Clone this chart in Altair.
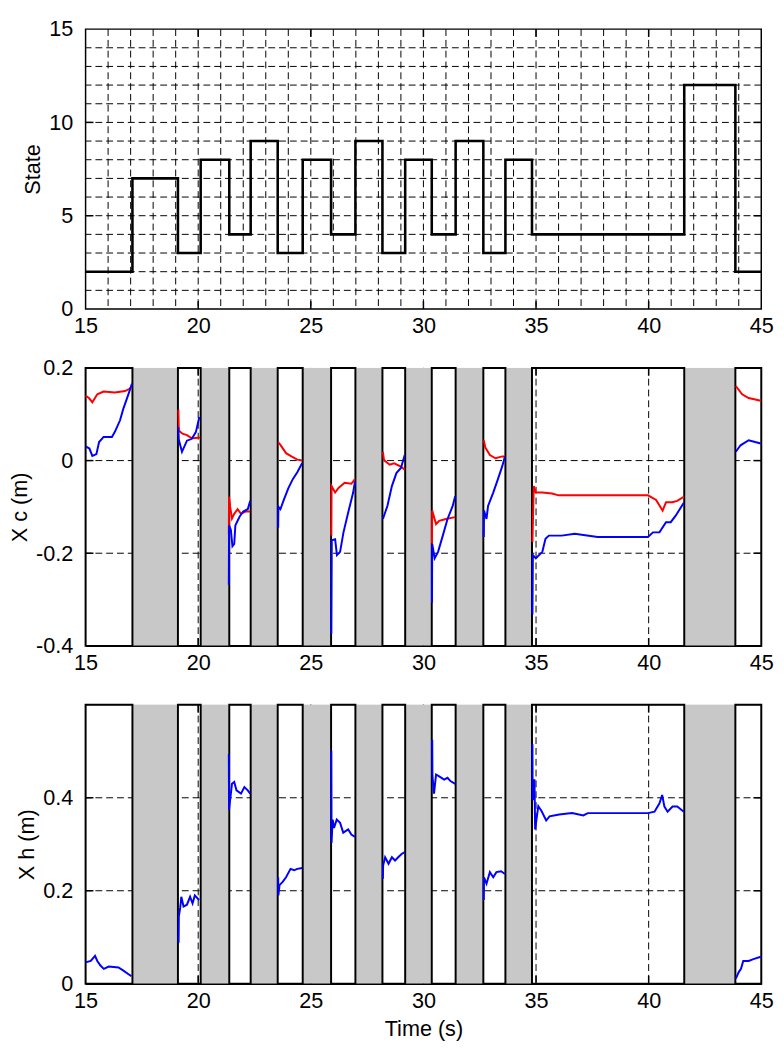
import altair as alt
import pandas as pd

# ---------------- data ----------------
SWITCH_TIMES = [15.0, 17.08, 19.1, 20.11, 21.38, 22.33, 23.53, 24.64, 25.9, 26.98,
                28.18, 29.19, 30.37, 31.43, 32.66, 33.64, 34.82, 41.58, 43.85]
STATES = [2, 7, 3, 8, 4, 9, 3, 8, 4, 9, 3, 8, 4, 9, 3, 8, 4, 12, 2]
T_END = 45.0
WHITE_STATES = [2, 3, 4]          # intervals drawn as framed white boxes; others shaded

# X_c (m): red trace, one list of (time, value) per white interval
XC_RED = [
    [(15.0, 0.140), (15.15, 0.135), (15.3, 0.126), (15.52, 0.143), (15.8, 0.149), (16.3, 0.147),
     (16.75, 0.150), (16.95, 0.155), (17.06, 0.160)],
    [(19.12, 0.110), (19.14, 0.065), (19.3, 0.058), (19.5, 0.055), (19.65, 0.050), (19.8, 0.048), (20.08, 0.050)],
    [(21.36, -0.160), (21.37, -0.078), (21.42, -0.100), (21.5, -0.125), (21.6, -0.115), (21.75, -0.105),
     (21.9, -0.115), (22.1, -0.110), (22.31, -0.110)],
    [(23.55, 0.040), (23.65, 0.034), (23.9, 0.016), (24.1, 0.010), (24.4, 0.002), (24.62, 0.0)],
    [(25.91, -0.162), (25.92, -0.055), (26.08, -0.069), (26.23, -0.059), (26.5, -0.048), (26.8, -0.050), (26.96, -0.040)],
    [(28.2, 0.019), (28.25, 0.001), (28.5, -0.009), (28.7, -0.006), (29.0, -0.013), (29.17, -0.020)],
    [(30.38, -0.179), (30.39, -0.108), (30.56, -0.137), (30.7, -0.130), (31.0, -0.126), (31.41, -0.122)],
    [(32.68, 0.044), (32.75, 0.028), (32.95, 0.012), (33.2, 0.005), (33.5, 0.009), (33.62, 0.009)],
    [(34.84, -0.176), (34.9, -0.055), (34.99, -0.069), (35.28, -0.069), (35.71, -0.071), (36.0, -0.075),
     (39.97, -0.075), (40.33, -0.085), (40.62, -0.108), (40.77, -0.090), (41.05, -0.090), (41.27, -0.087),
     (41.56, -0.078)],
    [(43.87, 0.161), (44.15, 0.143), (44.44, 0.135), (44.98, 0.129)],
]

# X_c (m): blue trace
XC_BLUE = [
    [(15.0, 0.031), (15.17, 0.026), (15.3, 0.010), (15.48, 0.014), (15.6, 0.040), (15.8, 0.051), (16.17, 0.051),
     (16.3, 0.062), (16.53, 0.087), (16.67, 0.111), (16.9, 0.143), (17.06, 0.166)],
    [(19.12, 0.072), (19.14, 0.045), (19.28, 0.019), (19.5, 0.043), (19.72, 0.047), (19.9, 0.062), (20.05, 0.094)],
    [(21.36, -0.268), (21.37, -0.140), (21.45, -0.150), (21.52, -0.185), (21.6, -0.180), (21.65, -0.140),
     (21.75, -0.130), (21.85, -0.120), (22.0, -0.110), (22.2, -0.105), (22.31, -0.087)],
    [(23.55, -0.145), (23.56, -0.100), (23.65, -0.105), (23.8, -0.085), (24.0, -0.060), (24.2, -0.040),
     (24.4, -0.025), (24.62, -0.005)],
    [(25.91, -0.374), (25.93, -0.172), (26.08, -0.170), (26.16, -0.204), (26.3, -0.197), (26.45, -0.155),
     (26.66, -0.112), (26.88, -0.069), (26.96, -0.045)],
    [(28.2, -0.126), (28.3, -0.112), (28.4, -0.098), (28.6, -0.055), (28.8, -0.027), (29.0, -0.016), (29.17, 0.012)],
    [(30.38, -0.307), (30.39, -0.180), (30.5, -0.211), (30.65, -0.197), (30.86, -0.162), (31.07, -0.126),
     (31.3, -0.098), (31.41, -0.077)],
    [(32.68, -0.165), (32.69, -0.108), (32.8, -0.126), (32.87, -0.098), (33.1, -0.069), (33.3, -0.041),
     (33.5, -0.012), (33.62, 0.009)],
    [(34.84, -0.332), (34.86, -0.204), (34.99, -0.211), (35.28, -0.197), (35.42, -0.169), (35.57, -0.162),
     (36.14, -0.162), (36.72, -0.158), (37.73, -0.165), (39.97, -0.165), (40.19, -0.155), (40.48, -0.155),
     (40.77, -0.133), (40.98, -0.133), (41.2, -0.119), (41.56, -0.091)],
    [(43.87, 0.019), (44.08, 0.033), (44.44, 0.044), (44.73, 0.040), (44.98, 0.037)],
]

# X_h (m): blue trace
XH_BLUE = [
    [(15.0, 0.046), (15.23, 0.049), (15.42, 0.060), (15.52, 0.049), (15.66, 0.039), (15.81, 0.032),
     (16.03, 0.037), (16.46, 0.035), (16.68, 0.028), (16.89, 0.021), (17.04, 0.016)],
    [(19.13, 0.088), (19.14, 0.145), (19.2, 0.163), (19.25, 0.187), (19.35, 0.166), (19.5, 0.170),
     (19.64, 0.187), (19.75, 0.173), (19.85, 0.190), (20.04, 0.180)],
    [(21.36, 0.494), (21.37, 0.374), (21.4, 0.388), (21.5, 0.430), (21.6, 0.434), (21.7, 0.416),
     (21.9, 0.409), (22.05, 0.423), (22.2, 0.416), (22.31, 0.409)],
    [(23.55, 0.229), (23.56, 0.190), (23.61, 0.212), (23.75, 0.219), (23.9, 0.229), (24.1, 0.247),
     (24.26, 0.244), (24.4, 0.247), (24.62, 0.249)],
    [(25.91, 0.501), (25.92, 0.303), (25.97, 0.353), (26.03, 0.335), (26.15, 0.353), (26.3, 0.346),
     (26.44, 0.325), (26.66, 0.332), (26.8, 0.321), (26.96, 0.316)],
    [(28.2, 0.226), (28.21, 0.254), (28.3, 0.272), (28.45, 0.258), (28.6, 0.272), (28.74, 0.265),
     (28.88, 0.272), (29.03, 0.279), (29.17, 0.283)],
    [(30.39, 0.525), (30.40, 0.448), (30.47, 0.409), (30.56, 0.450), (30.7, 0.446), (30.92, 0.439),
     (31.07, 0.443), (31.2, 0.436), (31.41, 0.430)],
    [(32.68, 0.180), (32.69, 0.229), (32.8, 0.215), (32.95, 0.240), (33.1, 0.229), (33.24, 0.240),
     (33.45, 0.242), (33.62, 0.236)],
    [(34.84, 0.515), (34.85, 0.395), (34.93, 0.440), (34.96, 0.332), (35.1, 0.382), (35.25, 0.371),
     (35.45, 0.351), (35.6, 0.360), (36.03, 0.364), (36.6, 0.367), (37.1, 0.362), (37.3, 0.367),
     (39.97, 0.367), (40.26, 0.370), (40.48, 0.388), (40.6, 0.406), (40.7, 0.381), (40.84, 0.370),
     (41.06, 0.381), (41.27, 0.381), (41.56, 0.370)],
    [(43.87, 0.011), (44.0, 0.025), (44.1, 0.032), (44.2, 0.049), (44.44, 0.049), (44.65, 0.053),
     (44.98, 0.058)],
]

X_TICKS = [15, 20, 25, 30, 35, 40, 45]
STATE_TICKS = [0, 5, 10, 15]
XC_TICKS = [-0.4, -0.2, 0, 0.2]
XH_TICKS = [0, 0.2, 0.4]

# ---------------- styling ----------------
W = 688
H1, H2, H3 = 285, 283, 284
FONT = "Liberation Sans, Arial, sans-serif"
LABEL_SIZE = 22
TITLE_SIZE = 22
GRAY = "#c8c8c8"
DASH = [7, 4]
TICK_LEN = 8

xs = alt.Scale(domain=[15, 45], nice=False, zero=False)

# ---------------- derived tables ----------------
ends = SWITCH_TIMES[1:] + [T_END]
intervals = pd.DataFrame({"t0": SWITCH_TIMES, "t1": ends, "state": STATES})
state_df = pd.DataFrame({"t": SWITCH_TIMES + [T_END], "state": STATES + [STATES[-1]]})
WHITE_EXPR = "indexof(" + str(WHITE_STATES) + ", datum.state)"


def traces(segs, series):
    rows = []
    for i, seg in enumerate(segs):
        for k, (t, v) in enumerate(seg):
            rows.append({"seg": f"{series}-{i}", "series": series, "t": t, "v": v, "k": k})
    return pd.DataFrame(rows)


def x_axis(title, domain):
    kw = dict(values=X_TICKS, grid=False, ticks=False, tickSize=0, labelFont=FONT, labelFontSize=LABEL_SIZE,
              labelColor="black", labelPadding=7, labelFlush=False, labelOverlap=False, domain=domain,
              titleFont=FONT, titleFontSize=TITLE_SIZE, titleFontWeight="normal", titleColor="black",
              titlePadding=8, zindex=1, title=title)
    if domain:
        kw.update(domainColor="black", domainWidth=1.5)
    return alt.Axis(**kw)


def y_axis(values, title):
    return alt.Axis(values=values, grid=False, ticks=False, tickSize=0, labelFont=FONT,
                    labelFontSize=LABEL_SIZE, labelColor="black", labelPadding=13, labelFlush=False,
                    labelOverlap=False, domain=False, labelExpr="toString(datum.value)", title=title,
                    titleFont=FONT, titleFontSize=TITLE_SIZE, titleFontWeight="normal", titleColor="black",
                    titlePadding=4, zindex=1)


def grid_layers(xgrid, ygrid, XAX, YAX, ys):
    gx = alt.Chart(pd.DataFrame({"v": xgrid})).mark_rule(color="black", strokeDash=DASH, strokeWidth=1).encode(
        x=alt.X("v:Q", scale=xs, axis=XAX))
    gy = alt.Chart(pd.DataFrame({"v": ygrid})).mark_rule(color="black", strokeDash=DASH, strokeWidth=1).encode(
        y=alt.Y("v:Q", scale=ys, axis=YAX))
    return [gx, gy]


def tick_layers(yticks, XAX, YAX, ys, H):
    xt = pd.DataFrame({"v": X_TICKS[1:-1]})
    yt = pd.DataFrame({"v": yticks})
    base = dict(color="black", strokeWidth=1.5)
    return [
        alt.Chart(xt).mark_rule(**base).encode(x=alt.X("v:Q", scale=xs, axis=XAX),
                                               y=alt.value(H), y2=alt.value(H - TICK_LEN)),
        alt.Chart(xt).mark_rule(**base).encode(x=alt.X("v:Q", scale=xs, axis=XAX),
                                               y=alt.value(0), y2=alt.value(TICK_LEN)),
        alt.Chart(yt).mark_rule(**base).encode(y=alt.Y("v:Q", scale=ys, axis=YAX),
                                               x=alt.value(0), x2=alt.value(TICK_LEN)),
        alt.Chart(yt).mark_rule(**base).encode(y=alt.Y("v:Q", scale=ys, axis=YAX),
                                               x=alt.value(W), x2=alt.value(W - TICK_LEN)),
    ]


# ---------------- top panel: state ----------------
ys1 = alt.Scale(domain=[0, 15], nice=False)
XAX1 = x_axis(None, False)
YAX1 = y_axis(STATE_TICKS, "State")
top_layers = grid_layers(list(range(16, 45)), list(range(1, 15)), XAX1, YAX1, ys1)
top_layers += tick_layers(STATE_TICKS[1:-1], XAX1, YAX1, ys1, H1)
top_layers.append(
    alt.Chart(state_df).mark_line(interpolate="step-after", color="black", strokeWidth=2.6).encode(
        x=alt.X("t:Q", scale=xs, axis=XAX1),
        y=alt.Y("state:Q", scale=ys1, axis=YAX1),
    ))
top = alt.layer(*top_layers).properties(width=W, height=H1,
                                        view=alt.ViewBackground(stroke="black", strokeWidth=1.5))


# ---------------- shaded panels ----------------
def shaded_panel(ydom, yticks, ygrid, H, ytitle, xtitle, trace_df):
    ys = alt.Scale(domain=ydom, nice=False, zero=False)
    XAX = x_axis(xtitle, True)
    YAX = y_axis(yticks, ytitle)
    iv = intervals.assign(lo=ydom[0], hi=ydom[1])
    layers = grid_layers([20, 25, 30, 35, 40], ygrid, XAX, YAX, ys)
    layers += tick_layers(ygrid, XAX, YAX, ys, H)
    layers.append(
        alt.Chart(iv).transform_filter(WHITE_EXPR + " < 0").mark_rect(color=GRAY).encode(
            x=alt.X("t0:Q", scale=xs, axis=XAX), x2="t1:Q",
            y=alt.Y("lo:Q", scale=ys, axis=YAX), y2="hi:Q"))
    layers.append(
        alt.Chart(iv).transform_filter(WHITE_EXPR + " >= 0").mark_rect(
            fill="transparent", stroke="black", strokeWidth=2).encode(
            x=alt.X("t0:Q", scale=xs, axis=XAX), x2="t1:Q",
            y=alt.Y("lo:Q", scale=ys, axis=YAX), y2="hi:Q"))
    layers.append(
        alt.Chart(trace_df).mark_line(strokeWidth=2).encode(
            x=alt.X("t:Q", scale=xs, axis=XAX),
            y=alt.Y("v:Q", scale=ys, axis=YAX),
            color=alt.Color("series:N", scale=alt.Scale(domain=["red trace", "blue trace"],
                                                        range=["#ff0000", "#0000ff"]), legend=None),
            detail="seg:N",
            order="k:Q",
        ))
    return alt.layer(*layers).properties(width=W, height=H)


xc_df = pd.concat([traces(XC_RED, "red trace"), traces(XC_BLUE, "blue trace")], ignore_index=True)
xh_df = traces(XH_BLUE, "blue trace")

mid = shaded_panel([-0.4, 0.2], XC_TICKS, [-0.2, 0], H2, "X c (m)", None, xc_df)
bot = shaded_panel([0, 0.6], XH_TICKS, [0.2, 0.4], H3, "X h (m)", "Time (s)", xh_df)

chart = alt.vconcat(top, mid, bot, spacing=60, bounds="flush").properties(
    padding={"left": 0, "top": 0, "right": 2, "bottom": 0}
).configure_view(stroke="transparent").configure(background="white")

chart.save("out.html", embed_options={"renderer": "svg", "actions": False})
